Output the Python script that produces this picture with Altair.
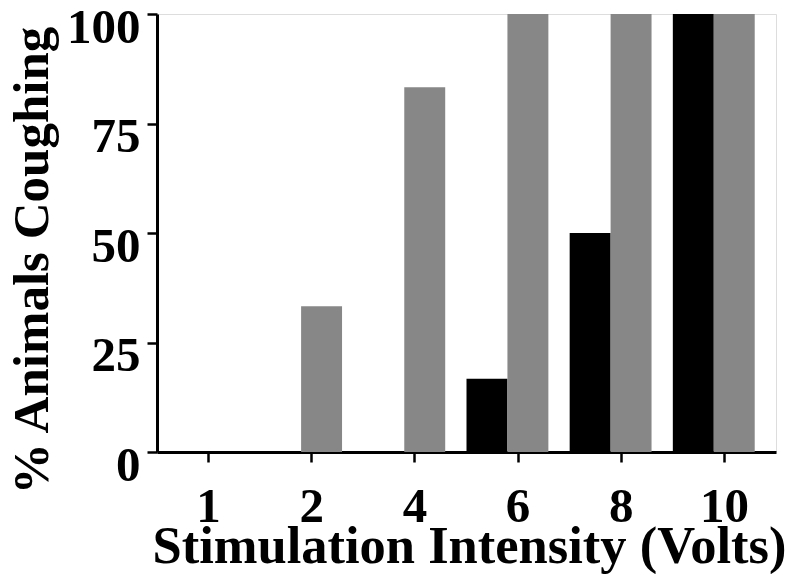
import altair as alt
import pandas as pd

categories = ["1", "2", "4", "6", "8", "10"]
series_names = ["Group A", "Group B"]
black_values = [0, 0, 0, 16.7, 50, 100]
gray_values = [0, 33.3, 83.3, 100, 100, 100]
y_ticks = [0, 25, 50, 75, 100]

rows = []
for c, b, g in zip(categories, black_values, gray_values):
    rows.append({"volts": c, "series": series_names[0], "pct": b})
    rows.append({"volts": c, "series": series_names[1], "pct": g})
df = pd.DataFrame(rows)

FONT = "Liberation Serif"

chart = (
    alt.Chart(df)
    .mark_bar()
    .encode(
        x=alt.X(
            "volts:N",
            sort=categories,
            scale=alt.Scale(paddingInner=0, paddingOuter=0),
            axis=alt.Axis(
                title="Stimulation Intensity (Volts)",
                labelAngle=0,
                labelFont=FONT,
                labelFontSize=49,
                labelFontWeight="bold",
                labelColor="black",
                labelBaseline="alphabetic",
                labelPadding=59,
                tickSize=10,
                tickWidth=2.5,
                tickColor="black",
                domainColor="black",
                domainWidth=3,
                titleFont=FONT,
                titleFontSize=52.5,
                titleFontWeight="bold",
                titleColor="black",
                titleBaseline="alphabetic",
                titleX=312,
                titleY=110,
                titleAlign="center",
                grid=False,
            ),
        ),
        xOffset=alt.XOffset(
            "series:N",
            sort=series_names,
            scale=alt.Scale(paddingInner=0, paddingOuter=0.26, align=0),
        ),
        y=alt.Y(
            "pct:Q",
            scale=alt.Scale(domain=[0, 100], nice=False),
            axis=alt.Axis(
                title="% Animals Coughing",
                values=y_ticks,
                labelFont=FONT,
                labelFontSize=49,
                labelFontWeight="bold",
                labelColor="black",
                labelPadding=7,
                labelOffset=28,
                labelBaseline="alphabetic",
                tickSize=10,
                tickWidth=2.5,
                tickColor="black",
                domainColor="black",
                domainWidth=3,
                titleFont=FONT,
                titleFontSize=51,
                titleFontWeight="bold",
                titleColor="black",
                titleBaseline="alphabetic",
                titleAngle=270,
                titleAlign="center",
                titleX=-110,
                titleY=246,
                grid=False,
            ),
        ),
        color=alt.Color(
            "series:N",
            sort=series_names,
            scale=alt.Scale(domain=series_names, range=["#000000", "#878787"]),
            legend=None,
        ),
    )
    .properties(
        width=619,
        height=438,
        autosize=alt.AutoSizeParams(type="none"),
        padding={"left": 149, "top": 6, "right": 15, "bottom": 122},
    )
    .configure_view(stroke=None)
    .configure(background="white")
)

chart.save("out.html", embed_options={"renderer": "svg", "actions": False})
